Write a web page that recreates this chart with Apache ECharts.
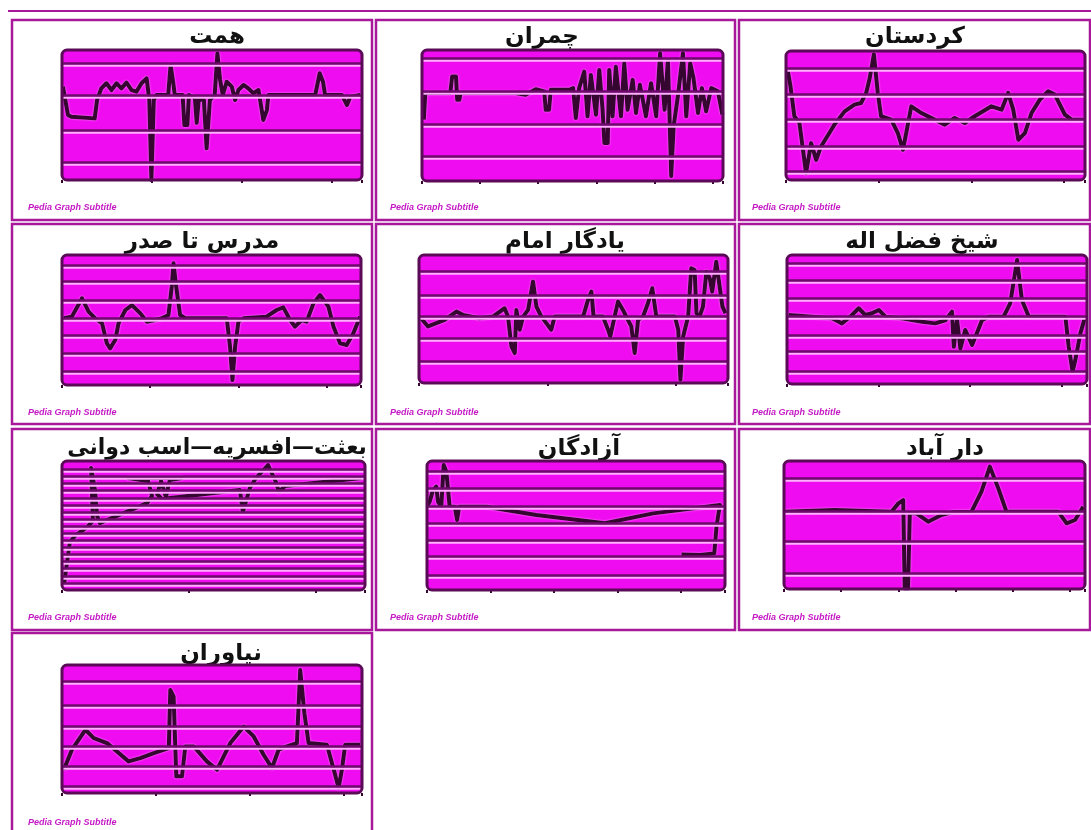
<!DOCTYPE html>
<html><head><meta charset="utf-8">
<script src="https://cdn.jsdelivr.net/npm/echarts@6/dist/echarts.min.js"></script>
<style>html,body{margin:0;padding:0;background:#fff}#c{width:1091px;height:830px}</style>
</head><body><div id="c"></div>
<script>
// ---- data (x: % of panel width, y: % of panel height) ----
const titles = ['همت','چمران','کردستان','مدرس تا صدر','یادگار امام','شیخ فضل اله','بعثت—افسریه—اسب دوانی','آزادگان','دار آباد','نیاوران'];
const subtitle = 'Pedia Graph Subtitle';

const hemmat = [[0.3,71.8],[2.0,50],[3.1,48.7],[10.9,47.4],[11.7,61.5],[13.1,70.5],[14.8,74.4],[16.5,69.2],[18.2,74.4],[19.8,70.5],[21.5,74.9],[23.2,69.2],[24.8,67.9],[26.5,74.4],[28.2,78.2],[29.1,61.5],[29.8,0],[30.6,61.5],[31.5,65.4],[35.4,65.4],[36.2,88.5],[37.1,74.4],[37.6,65.4],[40.2,65.4],[40.8,42.3],[41.8,42.3],[42.3,65.4],[44.3,63],[44.9,44],[45.6,62],[47.3,61.5],[48.2,24.4],[49.3,61.5],[50.9,65.4],[51.8,97.4],[52.7,76.9],[53.6,65.4],[54.9,75.6],[56.6,71.8],[57.7,61.5],[58.8,69.2],[60.5,73.1],[62.1,70.5],[63.8,66.7],[65.5,69.2],[67.1,46.2],[68.3,53.8],[68.8,65.4],[84.4,65.4],[85.9,82.1],[87.0,75.6],[87.7,65.4],[93.3,65.4],[95.0,57.7],[96.1,64.1],[99.4,65.4]];
const chamran = [[0.6,46.8],[1.1,67.1],[9.4,67.1],[10.0,79.7],[11.3,79.7],[11.7,62],[12.4,62],[12.8,67.1],[31.1,67.1],[34.4,65.8],[37.8,70.1],[40.6,68.4],[41.1,54.4],[42.2,54.4],[42.8,69.6],[48.9,69.6],[50.2,70.9],[51.1,48.1],[52.2,70.9],[53.9,83.5],[55.0,49.4],[56.1,81.0],[57.8,50.6],[58.9,84.8],[60.0,54.4],[60.6,29.1],[61.7,29.1],[62.2,84.8],[63.3,49.4],[64.4,87.3],[66.1,49.4],[67.2,89.9],[68.3,54.4],[70.0,77.2],[71.1,51.9],[72.4,73.4],[74.4,49.4],[76.1,74.7],[77.8,49.4],[79.1,97.5],[80.6,54.4],[81.7,92.4],[82.8,3.8],[83.6,41.8],[85.0,64.6],[86.7,97.5],[87.8,49.4],[89.1,89.9],[90.2,78.5],[91.7,51.9],[93.0,70.9],[94.4,53.2],[96.1,70.9],[98.3,68.4],[99.8,50.6]];
const kordestan = [[0.6,84.4],[1.5,72.7],[2.8,49.4],[4.5,44.2],[6.7,5.2],[8.4,28.6],[10.1,15.6],[11.7,26.0],[14.5,36.4],[16.2,42.9],[19.6,53.2],[22.9,58.4],[25.1,59.7],[26.8,67.5],[27.9,77.9],[29.4,97.4],[30.7,67.5],[31.8,49.4],[35.2,46.8],[37.4,36.4],[39.1,23.4],[40.2,36.4],[41.9,57.1],[45.3,51.9],[49.7,46.8],[53.1,42.9],[56.4,48.1],[59.8,44.2],[63.1,49.4],[68.7,57.1],[72.1,54.5],[74.3,67.5],[76.0,54.5],[77.7,31.2],[79.9,36.4],[82.1,51.9],[84.9,62.3],[87.7,68.8],[89.9,66.2],[93.3,50.6],[95.5,46.8],[99.4,46.8]];
const modarres = [[0.6,51.3],[3.3,52.6],[6.7,66.7],[8.9,56.4],[11.1,51.3],[13.4,47.4],[15.0,32.1],[16.1,28.2],[17.8,34.6],[18.9,47.4],[21.2,57.7],[23.4,61.5],[26.2,55.1],[28.4,48.7],[31.2,50.0],[33.4,51.3],[35.6,53.8],[36.7,75.6],[37.3,93.6],[38.2,75.6],[39.5,53.8],[41.2,51.3],[55.1,51.3],[56.2,29.5],[57.0,3.8],[57.9,29.5],[59.0,48.7],[60.7,51.3],[68.4,52.6],[71.8,57.7],[74.0,59.7],[76.3,50.0],[77.9,44.9],[80.2,50.0],[81.8,48.7],[84.1,62.8],[86.3,69.2],[89.1,60.3],[90.8,44.9],[93.0,32.1],[95.2,30.8],[97.4,39.7],[99.7,52.6]];
const yadegar = [[0.2,51.9],[2.9,44.2],[5.6,46.8],[8.3,49.4],[12.1,55.8],[14.2,53.2],[19.6,50.6],[23.9,51.9],[27.7,58.4],[28.8,51.9],[29.9,28.6],[31.0,23.4],[31.5,57.1],[32.6,41.6],[33.7,51.9],[35.3,57.1],[36.9,79.2],[38.0,59.7],[39.6,51.9],[41.2,46.8],[42.8,41.6],[43.9,51.9],[53.1,51.9],[54.7,64.9],[55.8,71.4],[56.5,51.9],[59.5,51.9],[61.2,41.6],[61.9,36.4],[63.3,51.9],[64.4,63.6],[66.0,57.1],[67.6,49.4],[68.7,44.2],[69.8,23.4],[70.9,49.4],[72.5,51.9],[74.1,62.3],[75.5,74.0],[76.8,51.9],[82.8,51.9],[83.9,41.6],[84.6,2.6],[85.5,36.4],[87.1,51.9],[88.1,89.6],[89.2,88.3],[89.8,54.5],[90.8,51.9],[91.9,59.7],[93.0,87.0],[94.1,81.8],[94.9,71.4],[96.2,94.8],[97.3,75.3],[98.2,59.7],[99.2,54.5]];
const sheikh = [[0.6,53.5],[8.3,52.2],[15.0,50.9],[18.3,47.0],[21.1,52.2],[23.9,58.7],[26.1,53.5],[28.3,54.8],[30.6,57.4],[32.8,52.2],[38.3,50.9],[45.0,48.3],[49.4,47.0],[52.8,49.4],[55.0,56.1],[55.6,28.9],[56.7,49.4],[57.8,27.6],[59.4,41.9],[61.7,30.2],[65.0,49.4],[67.2,52.2],[72.2,52.2],[74.4,62.5],[76.7,96.1],[78.3,65.1],[80.6,52.2],[92.8,52.2],[93.9,28.9],[95.2,9.6],[96.1,18.6],[97.8,39.3],[99.4,52.2]];
const besat = [[0.7,4.7],[2.6,37.2],[4.6,42.6],[8.3,48.8],[10.2,53.5],[9.6,94.6],[10.9,77.5],[11.6,57.4],[12.5,51.9],[28.1,67.4],[29.7,72.9],[28.4,84.5],[21.8,86.8],[39.6,86.8],[35.6,85.3],[34.3,72.1],[32.7,84.5],[31.4,74.4],[33.0,70.5],[58.7,77.5],[59.7,60.5],[62.0,79.1],[64.0,86.8],[68.0,96.9],[70.6,83.7],[71.6,76.0],[73.6,80.6],[99.0,86.8]];
const azadegan = [[0.3,65.9],[0.9,68.5],[2.0,77.5],[3.1,80.1],[3.7,68.5],[4.8,64.6],[5.6,96.9],[6.5,91.7],[7.6,64.6],[9.3,64.6],[10.1,54.3],[10.8,64.6],[19.9,64.6],[36.7,58.1],[59.7,51.7],[75.9,59.4],[98.3,65.9],[97.2,50.4],[96.4,28.4],[91.6,27.1],[85.4,27.6]];
const darabad = [[0.2,60.4],[16.9,61.7],[35.7,60.4],[38.0,66.9],[39.6,69.5],[40.1,0.5],[41.2,0.5],[41.8,59.1],[44.0,59.1],[47.9,52.6],[52.3,57.8],[55.7,59.9],[62.3,60.4],[65.6,76.0],[68.4,95.6],[71.2,78.6],[73.9,60.4],[91.1,60.4],[93.9,51.3],[96.7,53.9],[99.4,64.3]];
const niavaran = [[0.6,18.2],[3.3,33.8],[7.8,49.4],[10.6,42.9],[15.0,39.0],[22.2,24.7],[26.1,27.3],[30.6,31.2],[35.6,35.1],[36.1,80.5],[37.2,75.3],[38.1,13.0],[40.0,13.0],[41.1,36.4],[43.9,36.4],[48.3,24.7],[51.7,18.2],[56.1,39.0],[60.6,51.9],[63.9,44.2],[67.2,29.9],[70.0,19.5],[72.2,33.8],[75.0,36.4],[78.3,39.0],[79.4,96.1],[80.8,62.3],[82.2,39.0],[88.3,37.7],[90.6,18.2],[92.2,3.9],[93.3,18.2],[94.4,37.7],[99.4,37.7]];
const seriesData = [hemmat, chamran, kordestan, modarres, yadegar, sheikh, besat, azadegan, darabad, niavaran];

// horizontal grid line values per panel (same % units)
const gridLines = [
  [13.8,38.5,65.4,90],
  [19,43,68.4,93.7],
  [6.5,26,46.8,66.2,87],
  [10.3,24.4,38.5,51.3,65.4,79.5,92.3],
  [16.9,35.1,51.9,68.8,87],
  [9.6,25.1,38,52.2,66.4,80.6,93.5],
  [5.5,11,16.5,22,27.5,33,38.5,44,49.5,55,60.5,66,71.5,77,82.5,88,93.5],
  [11.6,25.8,38.8,51.7,64.6,78.8,91.7],
  [12.2,37,60.4,86.5],
  [5.2,20.8,36.4,51.9,68.8,87]
];
const xTickIntervals = [30,19.3,31,29.5,41.6,30.5,41.8,21.3,19,31.3];

// ---- layout / style ----
const plots = [[62,50,300,130],[422,50,301,131],[786,51,299,129],[62,255,299,130],[419,255,309,128],[787,255,300,129],[62,461,303,129],[427,461,298,129],[784,461,301,128],[62,665,300,128]];
const frames = [[12,20,360,200],[376,20,359,200],[739,20,351,200],[12,224,360,200],[376,224,359,200],[739,224,351,200],[12,429,360,201],[376,429,359,201],[739,429,351,201],[12,633,360,200]];
const titlePos = [[212,21],[537,21],[910,21],[197,226],[560,226],[917,226],[212,432],[574,433],[940,433],[216,638]];
const titleSizes = [23,23,23,23,23,23,22,23,23,23];
const subPos = [[28,208],[390,208],[752,208],[28,413],[390,413],[752,413],[28,618],[390,618],[752,618],[28,823]];

const FILL = '#f00cf0', GRID = '#6e0a6c', LINE = '#340630', FRAME = '#a8189a', BORDER = '#5a0a56';

const grid = [], xAxis = [], yAxis = [], series = [], title = [], graphic = [];
graphic.push({type:'line', z:0, shape:{x1:8,y1:11,x2:1091,y2:11}, style:{stroke:FRAME, lineWidth:2}});
plots.forEach((p,i)=>{
  grid.push({left:p[0], top:p[1], width:p[2], height:p[3], show:false, containLabel:false});
  xAxis.push({type:'value', gridIndex:i, min:0, max:100, interval:xTickIntervals[i],
    axisLabel:{show:false}, axisLine:{show:false}, splitLine:{show:false},
    axisTick:{show:true, length:3, lineStyle:{color:LINE, width:2}}});
  yAxis.push({type:'value', gridIndex:i, min:0, max:100, axisLabel:{show:false}, axisLine:{show:false}, axisTick:{show:false}, splitLine:{show:false}});
  series.push({type:'line', xAxisIndex:i, yAxisIndex:i, data:[], z:2, silent:true,
    markLine:{silent:true, symbol:'none', label:{show:false}, animation:false,
      lineStyle:{color:GRID, width:2.5, type:'solid', shadowColor:'#ffb0ff', shadowOffsetY:2, shadowBlur:0},
      data: gridLines[i].map(v=>({yAxis:v}))}});
  series.push({type:'line', xAxisIndex:i, yAxisIndex:i, data:seriesData[i], z:4, showSymbol:false, symbol:'none', silent:true,
    lineStyle:{color:LINE, width:4, join:'round', shadowColor:'rgba(255,200,255,0.8)', shadowBlur:2}});
  title.push({text:titles[i], left:titlePos[i][0], top:titlePos[i][1], textAlign:'center',
    textStyle:{fontFamily:'DejaVu Sans', fontWeight:'bold', fontSize:titleSizes[i], color:'#111'}});
  const f = frames[i];
  graphic.push({type:'rect', z:0, shape:{x:f[0], y:f[1], width:f[2], height:f[3]}, style:{fill:'#fff', stroke:FRAME, lineWidth:2.5}});
  graphic.push({type:'rect', z:1, shape:{x:p[0], y:p[1], width:p[2], height:p[3], r:5}, style:{fill:FILL}});
  graphic.push({type:'rect', z:10, shape:{x:p[0], y:p[1], width:p[2], height:p[3], r:5}, style:{fill:null, stroke:BORDER, lineWidth:3}});
  graphic.push({type:'text', z:10, x:subPos[i][0], y:subPos[i][1], style:{text:subtitle, font:'italic bold 9px "Liberation Sans"', fill:'#c418c4', textVerticalAlign:'middle'}});
});

const chart = echarts.init(document.getElementById('c'));
chart.setOption({animation:false, backgroundColor:'#fff', title, grid, xAxis, yAxis, series, graphic});
</script></body></html>
